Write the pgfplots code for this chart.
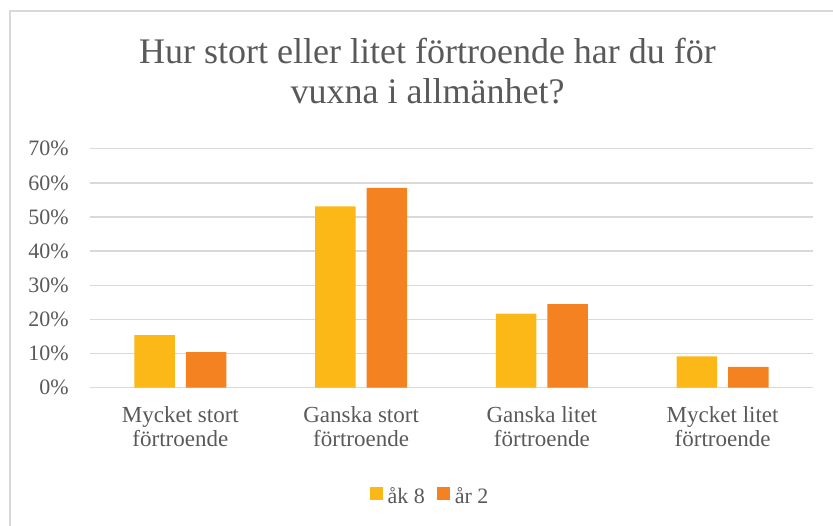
\documentclass[border=0pt]{standalone}
\usepackage{fontspec}
\setmainfont{Liberation Serif}
\usepackage{pgfplots}
\pgfplotsset{compat=1.18}
\definecolor{yel}{HTML}{FBB817}
\definecolor{ora}{HTML}{F58220}
\definecolor{txt}{HTML}{595959}
\definecolor{grd}{HTML}{D9D9D9}
\begin{document}
\begin{tikzpicture}
\begin{axis}[
  anchor=south west, at={(0pt,0pt)}, scale only axis,
  width=723pt, height=239pt,
  ymin=0, ymax=70, ytick={0,10,...,70},
  xmin=-0.5, xmax=3.5, xtick={0,1,2,3},
  xticklabels={{Mycket stort\\förtroende},{Ganska stort\\förtroende},{Ganska litet\\förtroende},{Mycket litet\\förtroende}},
  ybar=11pt, bar width=40.5pt,
  axis line style={draw=none},
  major tick length=0pt,
  ymajorgrids, grid style={grd, line width=1.3pt},
  /pgf/number format/assume math mode=true,
  yticklabel={\pgfmathprintnumber{\tick}\%},
  yticklabel style={text=txt, font=\fontsize{22}{26}\selectfont, inner sep=0pt, anchor=east, xshift=-21pt},
  xticklabel style={text=txt, font=\fontsize{23}{24}\selectfont, inner sep=0pt, align=center, anchor=north, yshift=-19pt},
  legend columns=2,
  legend style={at={(0.4703,-0.455)}, anchor=center, draw=none, fill=none, text=txt,
    font=\fontsize{22}{26}\selectfont,
    /tikz/every odd column/.append style={column sep=3pt},
    /tikz/every even column/.append style={column sep=10pt}},
]
\addplot[fill=yel, draw=none, legend image code/.code={\fill[yel] (0pt,-4pt) rectangle (13pt,9pt);}] coordinates {(0,15.4) (1,53.1) (2,21.7) (3,9.2)};
\addplot[fill=ora, draw=none, legend image code/.code={\fill[ora] (0pt,-4pt) rectangle (13pt,9pt);}] coordinates {(0,10.4) (1,58.5) (2,24.5) (3,6.1)};
\legend{åk 8, år 2}
\end{axis}
\draw[grd, line width=1.3pt] (-80pt,-150pt) -- (-80pt,376.7pt) -- (760pt,376.7pt);
\node[anchor=base, align=center, text=txt, font=\fontsize{36}{40}\selectfont, inner sep=0pt] at (337.5pt,283.7pt) {Hur stort eller litet förtroende har du för\\vuxna i allmänhet?};
\pgfresetboundingbox
\useasboundingbox (-90pt,-137.3pt) rectangle (743pt,387.7pt);
\end{tikzpicture}
\end{document}
